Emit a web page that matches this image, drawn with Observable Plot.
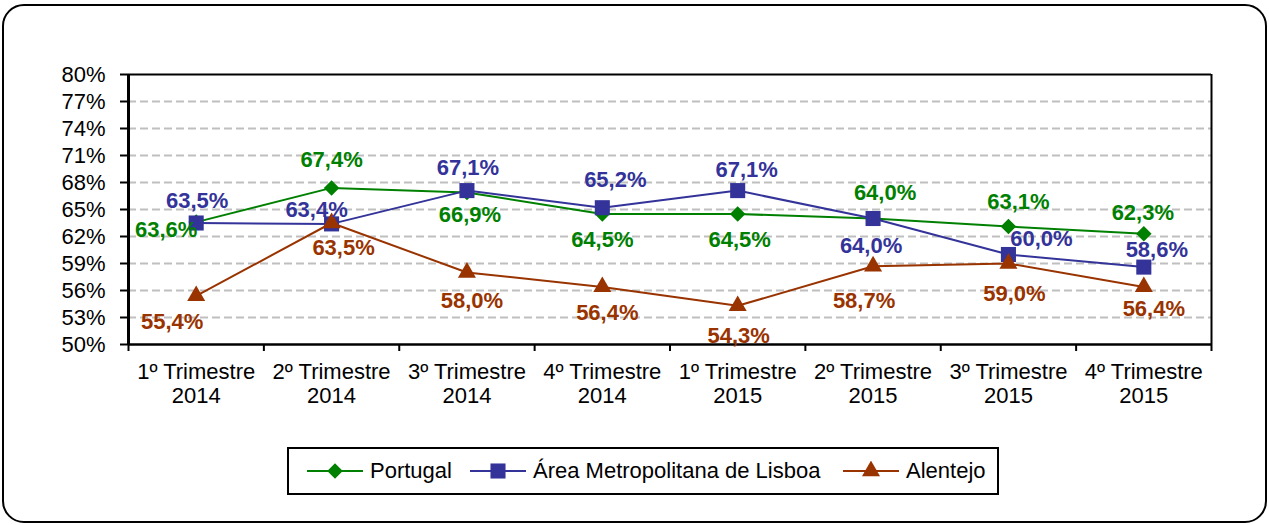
<!DOCTYPE html>
<html>
<head>
<meta charset="utf-8">
<script src="https://cdn.jsdelivr.net/npm/d3@7"></script>
<script src="https://cdn.jsdelivr.net/npm/@observablehq/plot@0.6"></script>
<style>
  html, body { margin: 0; padding: 0; background: #fff; overflow: hidden; }
  body { width: 1269px; height: 525px; position: relative; font-family: "Liberation Sans", Arial, sans-serif; }
  #frame { position: absolute; left: 2px; top: 4px; width: 1265px; height: 519px; box-sizing: border-box;
           border: 2px solid #000; border-radius: 22px; }
  #chart { position: absolute; left: 0; top: 0; }
  #legend { position: absolute; left: 287px; top: 447px; width: 712px; height: 48px; box-sizing: border-box;
            border: 2px solid #000; background: #fff; }
  .item { position: absolute; top: 0; height: 44px; display: flex; align-items: center; font-size: 22px; color: #000; white-space: nowrap; }
  .item svg { margin-right: 7px; }
</style>
</head>
<body>
<div id="frame"></div>
<div id="chart"></div>
<div id="legend"></div>
<script>
// ---- data ----
const quarters = [
  "1º Trimestre\n2014", "2º Trimestre\n2014", "3º Trimestre\n2014", "4º Trimestre\n2014",
  "1º Trimestre\n2015", "2º Trimestre\n2015", "3º Trimestre\n2015", "4º Trimestre\n2015"
];
const seriesNames = ["Portugal", "Área Metropolitana de Lisboa", "Alentejo"];
const portugal = [63.6, 67.4, 66.9, 64.5, 64.5, 64.0, 63.1, 62.3];
const lisboa   = [63.5, 63.4, 67.1, 65.2, 67.1, 64.0, 60.0, 58.6];
const alentejo = [55.4, 63.5, 58.0, 56.4, 54.3, 58.7, 59.0, 56.4];
const yTicks = [50, 53, 56, 59, 62, 65, 68, 71, 74, 77, 80];
const gridTicks = [53, 56, 59, 62, 65, 68, 71, 74, 77];

// ---- layout / style (label nudges in px, [dx, dy]) ----
const portugalLabelOffset = [[-30, 8], [0, -28], [3, 23], [0, 26], [2, 26], [12, -26], [10, -25], [-1, -21]];
const lisboaLabelOffset   = [[1, -22], [-15, -14], [1, -23], [13, -28], [9, -21], [-2, 27], [33, -16], [13, -17]];
const alentejoLabelOffset = [[-24, 26], [12, 25], [5, 28], [5, 26], [1, 30], [-9, 35], [6, 30], [10, 22]];
const colors = ["#008000", "#333399", "#993300"];
const symbols = ["diamond2", "square", "triangle"];
const symbolR = [7, 8.5, 6.7];

const series = [portugal, lisboa, alentejo];
const offsets = [portugalLabelOffset, lisboaLabelOffset, alentejoLabelOffset];
const fmt = v => v.toFixed(1).replace(".", ",") + "%";

const marks = [
  Plot.gridY(gridTicks, {stroke: "#bfbfbf", strokeOpacity: 1, strokeWidth: 2, strokeDasharray: "8,4"}),
  Plot.axisY(yTicks, {tickFormat: d => d + "%", tickSize: 8, tickPadding: 15, fontSize: 22, stroke: "#000", strokeWidth: 2}),
  Plot.axisX(d3.range(0, quarters.length + 1), {tickFormat: () => "", tickSize: 7, tickPadding: 0, stroke: "#000", strokeWidth: 2}),
  Plot.ruleY([80], {stroke: "#000", strokeWidth: 2}),
  Plot.ruleX([quarters.length], {stroke: "#000", strokeWidth: 2}),
  Plot.ruleY([50], {stroke: "#000", strokeWidth: 2.5}),
  Plot.ruleX([0], {stroke: "#000", strokeWidth: 3}),
  Plot.text(quarters, {x: (d, i) => i + 0.5, y: () => 50, text: d => d, lineAnchor: "top", dy: 17, lineHeight: 1.09, fontSize: 22, fill: "#000"})
];

series.forEach((vals, s) => {
  marks.push(Plot.line(vals, {x: (d, i) => i + 0.5, y: d => d, stroke: colors[s], strokeWidth: 2}));
});
series.forEach((vals, s) => {
  marks.push(Plot.dot(vals, {x: (d, i) => i + 0.5, y: d => d, symbol: symbols[s], r: symbolR[s], fill: colors[s], stroke: "none"}));
});
series.forEach((vals, s) => {
  vals.forEach((v, i) => {
    marks.push(Plot.text([v], {
      x: () => i + 0.5, y: d => d, text: d => fmt(d),
      dx: offsets[s][i][0], dy: offsets[s][i][1],
      fill: colors[s], fontWeight: "bold", fontSize: 22
    }));
  });
});

const chart = Plot.plot({
  width: 1269, height: 525,
  marginLeft: 128, marginRight: 58, marginTop: 74, marginBottom: 181,
  x: {type: "linear", domain: [0, quarters.length], axis: null},
  y: {domain: [50, 80], axis: null},
  style: {fontFamily: "'Liberation Sans', Arial, sans-serif", fontSize: "22px", color: "#000", background: "transparent", overflow: "visible"},
  marks
});
document.getElementById("chart").appendChild(chart);

// ---- legend ----
const legend = document.getElementById("legend");
const legendLeft = [18, 181, 554];
seriesNames.forEach((name, s) => {
  const item = document.createElement("div");
  item.className = "item";
  item.style.left = legendLeft[s] + "px";
  const w = 56, h = 20, cx = w / 2, cy = h / 2;
  const sym = d3.symbol(d3["symbol" + {diamond2: "Diamond2", square: "Square", triangle: "Triangle"}[symbols[s]]], Math.PI * symbolR[s] * symbolR[s])();
  item.innerHTML = `<svg width="${w}" height="${h}"><line x1="0" x2="${w}" y1="${cy}" y2="${cy}" stroke="${colors[s]}" stroke-width="2"/><path transform="translate(${cx},${cy})" d="${sym}" fill="${colors[s]}"/></svg><span>${name}</span>`;
  legend.appendChild(item);
});
</script>
</body>
</html>
